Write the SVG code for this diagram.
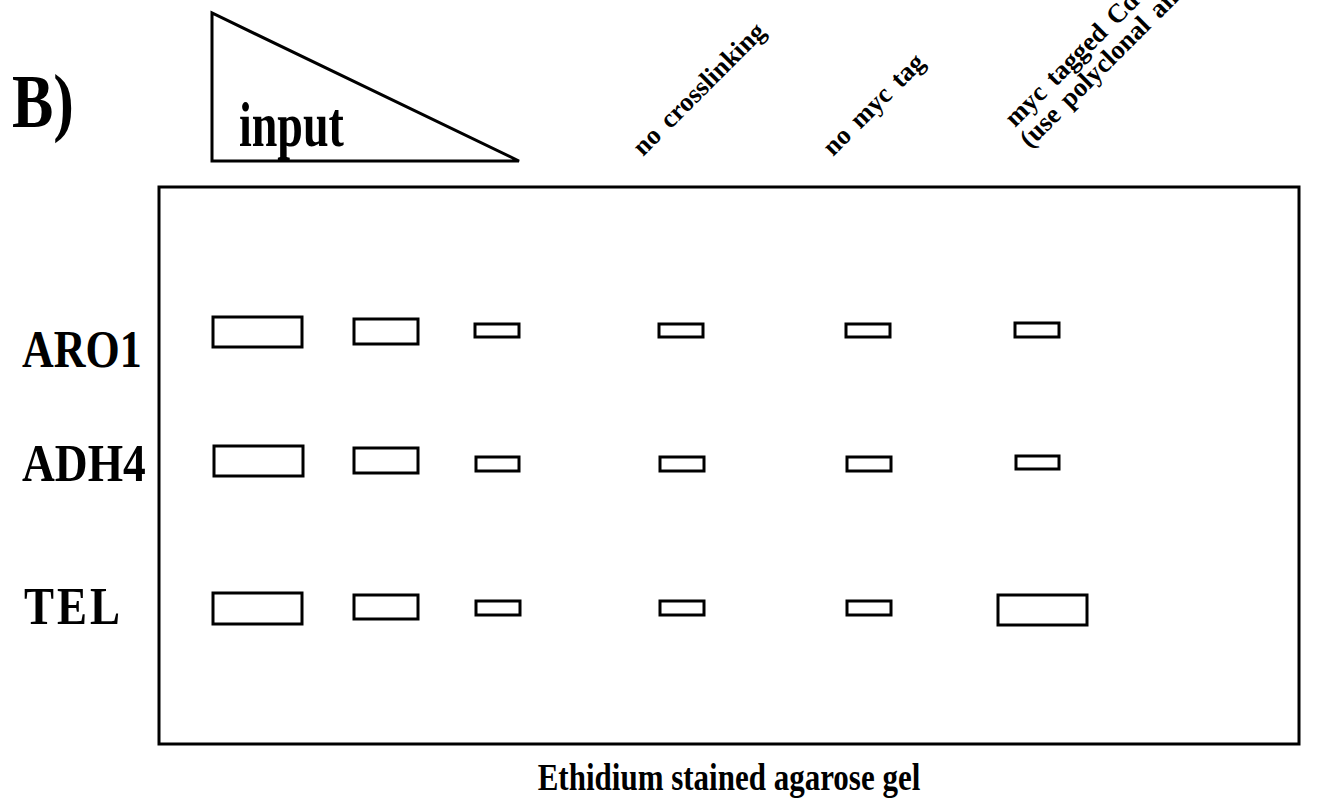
<svg xmlns="http://www.w3.org/2000/svg" width="1334" height="802" viewBox="0 0 1334 802">
<style>
  .t { font-family: "Liberation Serif", "Times New Roman", serif; font-weight: bold; fill: #000; }
  .lane { font-size: 26.5px; word-spacing: 4px; }
  .band { fill: #fff; stroke: #000; stroke-width: 3; }
  .frame { fill: none; stroke: #000; stroke-width: 3; }
</style>
<rect width="1334" height="802" fill="#fff"/>
<g id="panel-label"><text class="t" font-size="62" transform="translate(12,127) scale(1,1.22)">B)</text></g>
<g id="input-wedge">
  <polygon class="frame" points="212,13 212,161 519,161"/>
  <text class="t" font-size="46" transform="translate(239,146) scale(1,1.38)">input</text>
</g>
<g id="lane-labels">
  <text class="t lane" transform="translate(643,157) rotate(-45)">no crosslinking</text>
  <text class="t lane" transform="translate(833,157) rotate(-45)">no myc tag</text>
  <text class="t lane" transform="translate(1015,128) rotate(-45)">myc tagged Cdc</text>
  <text class="t lane" transform="translate(1030,149) rotate(-45)">(use polyclonal anti</text>
</g>
<g id="gel">
  <rect class="frame" x="159" y="187" width="1140" height="557"/>
</g>
<g id="row-labels">
  <text class="t" font-size="44" transform="translate(22,367) scale(1,1.18)">ARO1</text>
  <text class="t" font-size="45.5" transform="translate(22,481) scale(1,1.18)">ADH4</text>
  <text class="t" font-size="45" letter-spacing="3" transform="translate(24,624) scale(1,1.18)">TEL</text>
</g>
<g id="bands">
  <rect class="band" x="213" y="317" width="89" height="30"/>
  <rect class="band" x="354" y="319" width="64" height="25"/>
  <rect class="band" x="475" y="324" width="44" height="13"/>
  <rect class="band" x="659" y="324" width="44" height="13"/>
  <rect class="band" x="846" y="324" width="44" height="13"/>
  <rect class="band" x="1015" y="323" width="44" height="14"/>

  <rect class="band" x="214" y="446" width="89" height="30"/>
  <rect class="band" x="354" y="448" width="64" height="25"/>
  <rect class="band" x="476" y="457" width="43" height="14"/>
  <rect class="band" x="660" y="457" width="44" height="14"/>
  <rect class="band" x="847" y="457" width="44" height="14"/>
  <rect class="band" x="1016" y="456" width="43" height="13"/>

  <rect class="band" x="213" y="593" width="89" height="31"/>
  <rect class="band" x="354" y="595" width="64" height="24"/>
  <rect class="band" x="476" y="601" width="44" height="14"/>
  <rect class="band" x="660" y="601" width="44" height="14"/>
  <rect class="band" x="847" y="601" width="44" height="14"/>
  <rect class="band" x="998" y="595" width="89" height="30"/>
</g>
<g id="caption"><text class="t" font-size="31" text-anchor="middle" transform="translate(729,790) scale(1,1.2)">Ethidium stained agarose gel</text></g>
</svg>
